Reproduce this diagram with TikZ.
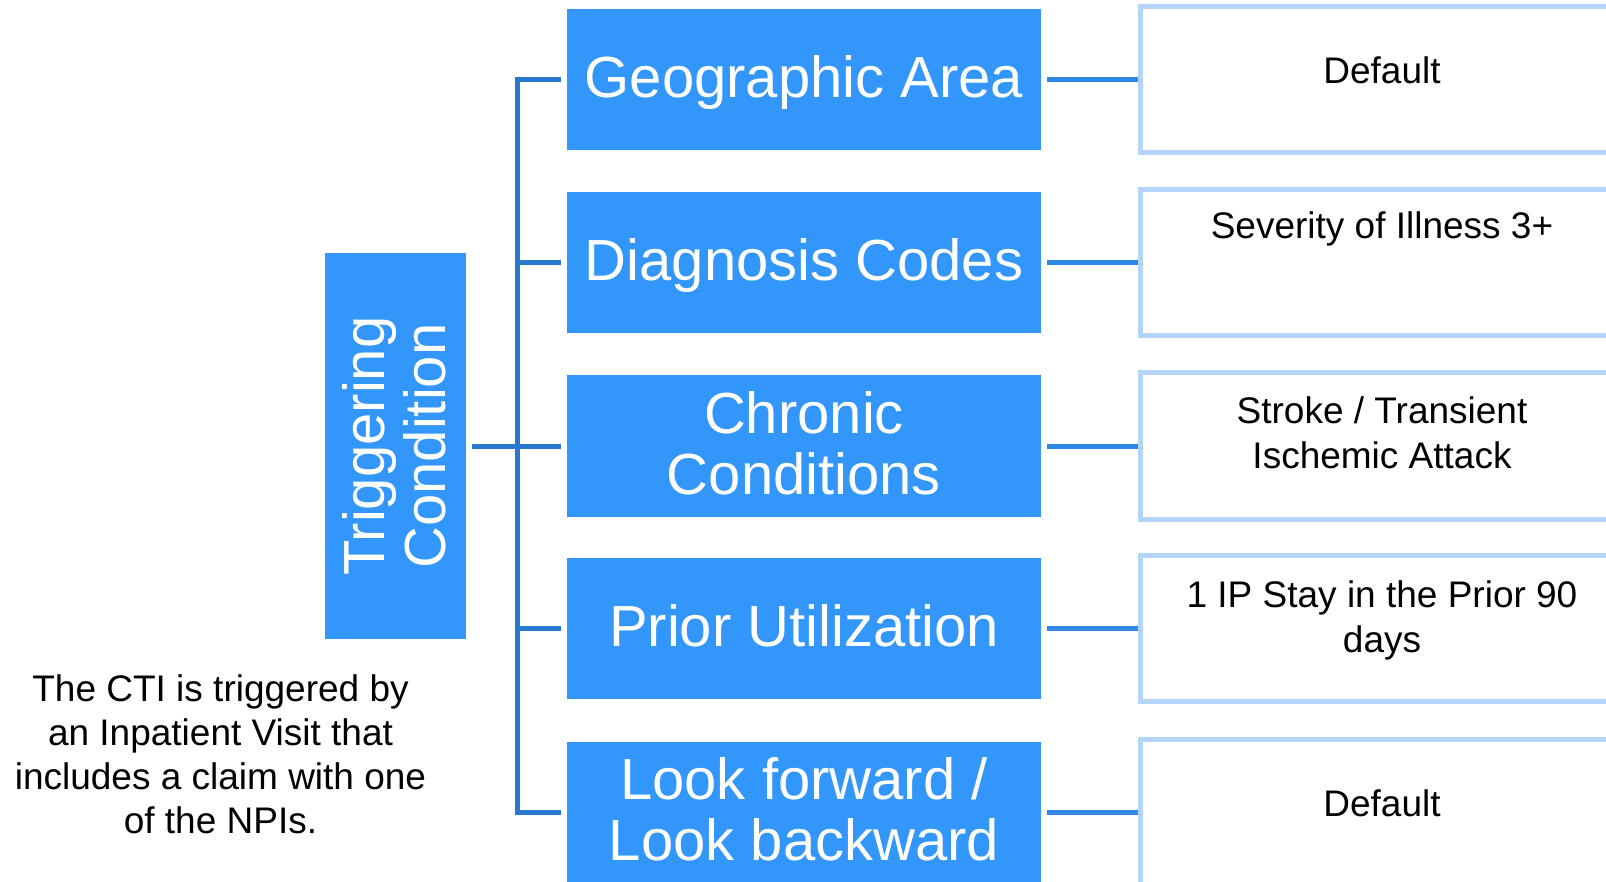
\documentclass[tikz,border=0pt]{standalone}
\usepackage{fontspec}
\setmainfont{Liberation Sans}
\definecolor{boxblue}{HTML}{3296FA}
\definecolor{connL}{HTML}{2878CE}
\definecolor{connR}{HTML}{2E88E6}
\definecolor{lightline}{HTML}{B4D4FC}
\begin{document}
\begin{tikzpicture}[x=1pt,y=-1pt,
  bluebox/.style={rectangle, fill=boxblue, draw=none, minimum width=474pt, minimum height=141pt,
    inner sep=0pt, text=white, align=flush center, text width=470pt, font=\fontsize{58}{61}\selectfont},
  valbox/.style={rectangle, draw=lightline, line width=5pt, fill=white, minimum width=484pt,
    minimum height=146pt, inner sep=0pt, align=flush center, text width=470pt, font=\fontsize{37}{45}\selectfont},
  hup/.style={text height=#1pt, text depth=0pt},
  hdn/.style={text height=0pt, text depth=#1pt},
  lconn/.style={draw=connL, line width=5pt},
  rconn/.style={draw=connR, line width=5pt},
  notetext/.style={font=\fontsize{37}{44}\selectfont, text width=440pt, align=flush center, anchor=base, inner sep=0pt}
]
\useasboundingbox (0,0) rectangle (1606,882);
\clip (0,0) rectangle (1606,882);

% category boxes
\node[bluebox, hup=36.4] (geo) at (804,79.5) {Geographic Area};
\node[bluebox, hup=37] (diag) at (804,262.5) {Diagnosis Codes};
\node[bluebox, hdn=25] (chron) at (804,446) {Chronic\\Conditions};
\node[bluebox, hup=36.4] (prior) at (804,628.5) {Prior Utilization};
\node[bluebox, hdn=27] (look) at (804,812.5) {Look forward /\\Look backward};

% root box
\node[bluebox, rotate=90, minimum width=385pt, minimum height=141pt, text width=380pt, hdn=23]
  (tc) at (395.5,446) {Triggering\\Condition};

% value boxes
\node[valbox, hup=7.6] (v1) at (1382,79.5) {Default};
\node[valbox, hdn=48.4] (v2) at (1382,262.5) {Severity of Illness 3+};
\node[valbox, hdn=44.4] (v3) at (1382,446) {Stroke / Transient\\Ischemic Attack};
\node[valbox, hdn=42.4] (v4) at (1382,628.5) {1 IP Stay in the Prior 90\\days};
\node[valbox, hup=7] (v5) at (1382,812.5) {Default};

% note
\node[notetext] (note) at (220.5,701) {The CTI is triggered by\\an Inpatient Visit that\\includes a claim with one\\of the NPIs.};

% connectors
\coordinate (hub) at (517,446);
\draw[lconn, shorten <=6pt] (tc.south) -- (hub);
\foreach \b in {geo,diag,chron,prior,look}
  \draw[lconn, shorten >=6pt] (hub) |- (\b.west);
\draw[rconn, shorten <=6pt] (geo.east) -- (v1.west);
\draw[rconn, shorten <=6pt] (diag.east) -- (v2.west);
\draw[rconn, shorten <=6pt] (chron.east) -- (v3.west);
\draw[rconn, shorten <=6pt] (prior.east) -- (v4.west);
\draw[rconn, shorten <=6pt] (look.east) -- (v5.west);
\end{tikzpicture}
\end{document}
